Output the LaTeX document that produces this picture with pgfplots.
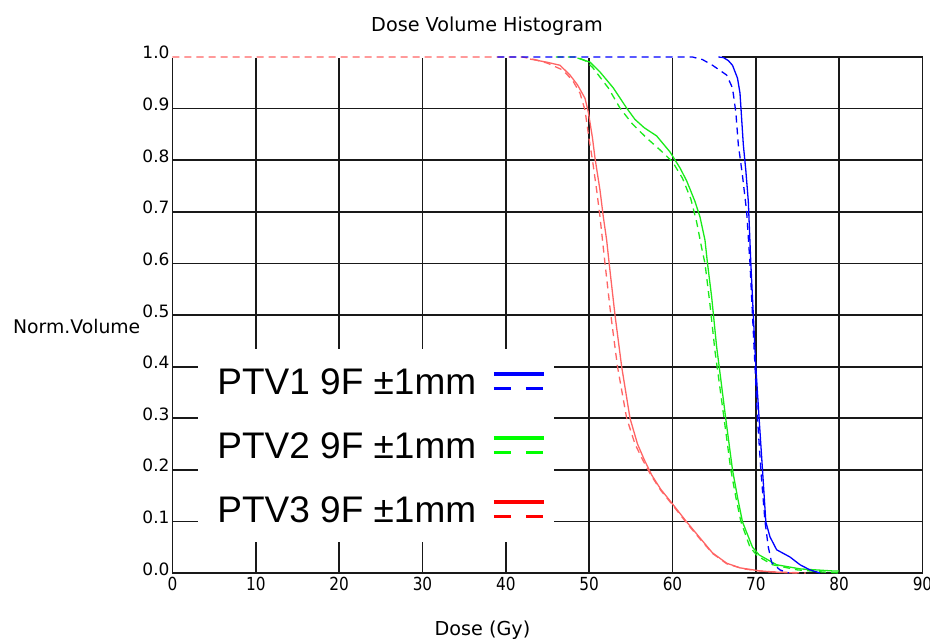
\documentclass[border=0pt]{standalone}
\usepackage{fontspec}
\setmainfont{DejaVu Sans}
\newfontfamily\legfont{Liberation Sans}
\usepackage{pgfplots}
\pgfplotsset{compat=1.18}

\definecolor{dvhblue}{RGB}{0,0,255}
\definecolor{dvhgreen}{RGB}{25,235,25}
\definecolor{dvhred}{RGB}{255,100,100}

\begin{document}
\begin{tikzpicture}
  \useasboundingbox (-86.25pt,-35pt) rectangle (378.75pt,286.5pt);
  \begin{axis}[
    at={(0,0)}, anchor=south west, scale only axis,
    width=375pt, height=258pt,
    xmin=0, xmax=90, ymin=0, ymax=1,
    clip=false,
    xtick={0,10,20,30,40,50,60,70,80,90},
    ytick={0,0.1,0.2,0.3,0.4,0.5,0.6,0.7,0.8,0.9,1},
    grid=major, grid style={black!90, line width=0.9pt},
    axis line style={black!90, line width=0.9pt},
    major tick length=0pt,
    /pgf/number format/assume math mode=true,
    xticklabel={\scalebox{0.85}[1]{\pgfmathprintnumber{\tick}}},
    x tick label style={font=\fontsize{9}{9}\selectfont, anchor=north, inner sep=0pt, yshift=-2pt},
    y tick label style={/pgf/number format/.cd, fixed, fixed zerofill, precision=1, /tikz/.cd,
      font=\fontsize{8.5}{8.5}\selectfont, anchor=base east, inner sep=0pt, xshift=-1.3pt, yshift=-1pt},
    legend plot pos=right,
    legend cell align=left,
    legend style={at={(0.034,0.060)}, anchor=south west, draw=none, fill=white,
      font=\legfont\fontsize{18.5}{18.5}\selectfont,
      inner xsep=4pt, inner ysep=9.75pt, row sep=19pt, column sep=2.5pt,
      nodes={inner xsep=5.5pt, inner ysep=0pt, text height=13pt, text depth=0pt}},
    every axis plot/.append style={line width=0.65pt},
    solid curve/.style={solid},
    dash curve/.style={dash pattern=on 3.5pt off 2.5pt},
  ]
    % hide the border under the flat part of the curves
    \addplot[white, line width=1.4pt, forget plot] coordinates {(0,1) (66,1)};

    % PTV3
    \addplot[dvhred, dash curve, forget plot] coordinates {
      (0,1) (42,1) (43.5,0.995) (45,0.988) (46.8,0.975) (48,0.955) (48.9,0.93)
      (49.5,0.897) (50,0.84) (50.4,0.80) (50.9,0.742) (51.3,0.69) (51.6,0.645)
      (51.9,0.60) (52.6,0.50) (53.4,0.4) (54.5,0.3) (55.5,0.25) (56.4,0.22)
      (57.4,0.19) (58.6,0.16) (59.9,0.134) (61.7,0.097) (63.3,0.066)
      (64.8,0.038) (66.5,0.018) (68.5,0.008) (71,0.003) (76,0)};
    \addplot[dvhred, solid curve, forget plot] coordinates {
      (42.9,0.996) (44.9,0.99) (46.5,0.984) (47.7,0.965) (48.6,0.946) (49.5,0.92)
      (49.9,0.893) (50.4,0.843) (50.7,0.804) (51.3,0.742) (51.7,0.69) (52.1,0.645)
      (52.4,0.6) (53.1,0.5) (53.9,0.4) (54.9,0.3) (55.8,0.25) (56.6,0.22)
      (57.5,0.19) (58.6,0.162) (59.9,0.136) (61.7,0.099) (63.3,0.068)
      (64.8,0.039) (66.5,0.019) (68.1,0.01) (70.5,0.004) (73,0.001) (75,0)};

    % PTV2
    \addplot[dvhgreen, dash curve, forget plot] coordinates {
      (46,1) (48.5,1) (49.5,0.993) (50.4,0.98) (52.3,0.94) (53.7,0.901) (55.2,0.87)
      (56.9,0.843) (58.5,0.82) (60,0.797) (61.2,0.765) (62.2,0.725) (62.9,0.68)
      (63.5,0.63) (63.9,0.6) (64.5,0.52) (65.1,0.43) (65.6,0.37) (66.2,0.298)
      (67,0.2) (67.6,0.147) (68.2,0.1) (69.3,0.05) (70.2,0.033) (72,0.016)
      (75,0.006) (78,0.002) (80,0)};
    \addplot[dvhgreen, solid curve, forget plot] coordinates {
      (48.6,0.998) (50.1,0.99) (51.3,0.971) (52.9,0.94) (54.5,0.901) (55.5,0.879)
      (56.6,0.863) (58.1,0.847) (59.7,0.816) (60.9,0.785) (61.7,0.76) (62.7,0.72)
      (63.3,0.69) (63.9,0.645) (64.2,0.60) (64.7,0.535) (65.3,0.438) (65.8,0.375)
      (66.4,0.298) (67.2,0.2) (67.8,0.147) (68.4,0.099) (69.6,0.05) (70.4,0.035)
      (72.5,0.016) (75.3,0.008) (79.2,0.004) (80,0.004)};

    % PTV1
    \addplot[dvhblue, dash curve, forget plot] coordinates {
      (39,1) (62.4,1) (63.6,0.995) (64.8,0.984) (66.5,0.965) (67.2,0.94)
      (67.6,0.893) (67.9,0.83) (68.4,0.77) (68.9,0.7) (69.3,0.6) (69.6,0.5)
      (69.9,0.4) (70.2,0.3) (70.6,0.2) (71.1,0.1) (71.5,0.05) (71.9,0.02)
      (72.9,0.006) (74,0)};
    \addplot[dvhblue, solid curve, forget plot] coordinates {
      (65.5,1) (66.1,0.999) (66.7,0.993) (67.2,0.984) (67.8,0.959) (68.1,0.93)
      (68.3,0.88) (68.5,0.83) (68.8,0.78) (69.1,0.72) (69.4,0.6) (69.7,0.5)
      (70,0.4) (70.4,0.298) (70.8,0.2) (71.2,0.099) (71.7,0.07) (72.5,0.045)
      (74.1,0.031) (75.3,0.016) (76.5,0.006) (77.7,0)};

    % legend
    \addlegendimage{legend image code/.code={
      \draw[blue, line width=1.75pt] (0pt,3.5pt) -- (25pt,3.5pt);
      \draw[blue, line width=1.75pt, dash pattern=on 8.5pt off 7.5pt] (0pt,-3.75pt) -- (25pt,-3.75pt);}}
    \addlegendentry{PTV1 9F ±1mm}
    \addlegendimage{legend image code/.code={
      \draw[green, line width=1.75pt] (0pt,3.5pt) -- (25pt,3.5pt);
      \draw[green, line width=1.75pt, dash pattern=on 8.5pt off 7.5pt] (0pt,-3.75pt) -- (25pt,-3.75pt);}}
    \addlegendentry{PTV2 9F ±1mm}
    \addlegendimage{legend image code/.code={
      \draw[red, line width=1.75pt] (0pt,3.5pt) -- (25pt,3.5pt);
      \draw[red, line width=1.75pt, dash pattern=on 8.5pt off 7.5pt] (0pt,-3.75pt) -- (25pt,-3.75pt);}}
    \addlegendentry{PTV3 9F ±1mm}
  \end{axis}
  \node[anchor=base, inner sep=0pt, font=\fontsize{9.6}{9.6}\selectfont] at (157.25pt,270.75pt) {Dose Volume Histogram};
  \node[anchor=base, inner sep=0pt, font=\fontsize{9.6}{9.6}\selectfont] at (155pt,-31pt) {Dose (Gy)};
  \node[anchor=base east, inner sep=0pt, font=\fontsize{9.4}{9.4}\selectfont] at (-15.9pt,119.85pt) {Norm.Volume};
\end{tikzpicture}
\end{document}
